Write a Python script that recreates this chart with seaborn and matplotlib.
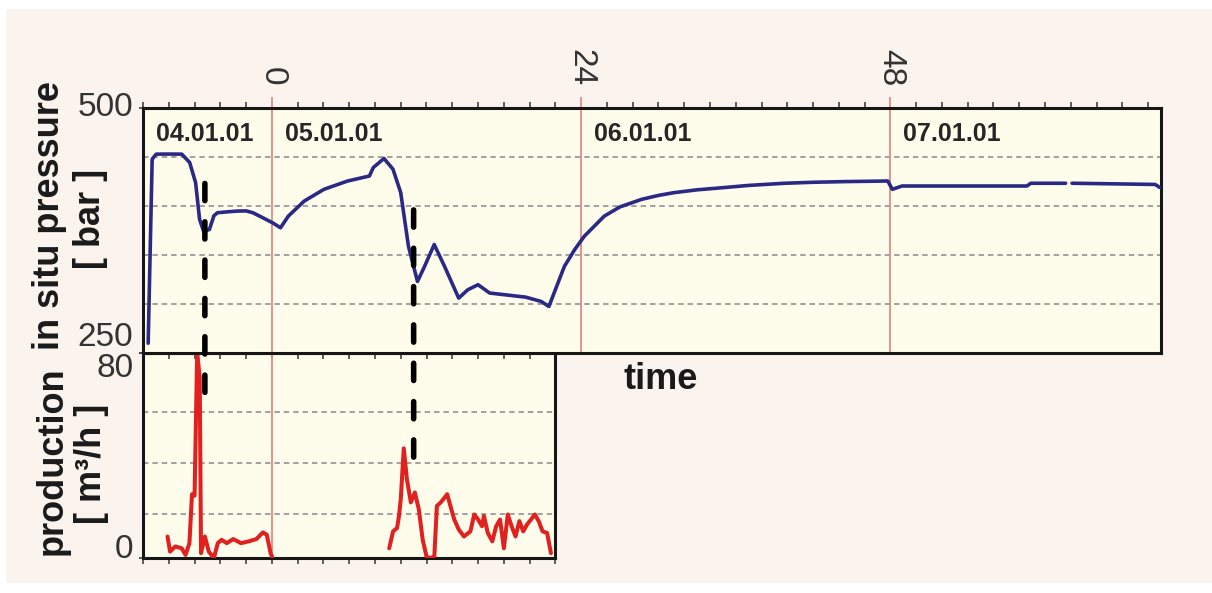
import numpy as np
import pandas as pd
import matplotlib
matplotlib.use("Agg")
import matplotlib.pyplot as plt
import seaborn as sns
from matplotlib.patches import Rectangle, ConnectionPatch
from matplotlib.ticker import MultipleLocator

# ---------------- data ----------------
pressure_hours = [-9.6, -9.29, -8.98, -8.0, -6.99, -6.38, -5.92, -5.61, -5.3, -4.85,
                  -4.5, -4.23, -3.5, -2.7, -2.0, -1.47, -0.7, 0.05, 0.67, 1.28,
                  2.51, 4.04, 5.88, 7.57, 7.87, 8.7, 9.4, 10.0, 10.6, 11.3,
                  11.85, 12.6, 13.4, 14.5, 15.2, 16.0, 16.9, 18.1, 19.7, 20.9,
                  21.5, 22.7, 23.5, 24.25, 25.8, 27.0, 28.7, 30.0, 31.2, 33.0,
                  35.0, 37.0, 39.8, 42.0, 44.5, 47.8, 48.15, 48.9, 58.6, 58.9,
                  61.6,
                  62.1, 68.55, 68.9]
pressure_bar = [260, 447.7, 452.9, 453, 452.9, 444.4, 423.9, 386.3, 374.3, 376,
                390, 393.1, 394, 394.8, 395, 393.1, 388, 382.9, 377.8, 389.7,
                405, 417, 425.5, 430.6, 439.2, 448.5, 437.5, 413.6, 358.9, 323,
                338.4, 360.7, 338.4, 306, 314.5, 319.7, 311.2, 309.4, 307, 302.6,
                297.5, 338.4, 355.5, 369.2, 389.7, 399, 406.8, 410.8, 413.6, 416.5,
                418.7, 421, 423.2, 424.2, 424.9, 425.5, 417, 420.4, 420.4, 423.2,
                423.2,
                423.2, 422, 419]
pressure_segment = [1] * 61 + [2] * 3

production_hours = [-8.1, -7.9, -7.5, -7.0, -6.7, -6.4, -6.2, -6.0, -5.8, -5.6,
                    -5.5, -5.2, -4.9, -4.5, -4.2, -3.9, -3.5, -3.0, -2.4, -1.8,
                    -1.2, -0.7, -0.4, -0.1, 0.05,
                    9.1, 9.4, 9.71, 9.86, 10.0, 10.23, 10.47, 10.78, 11.09, 11.4,
                    11.7, 12.0, 12.3, 12.6, 12.8, 13.1, 13.4, 13.6, 13.85, 14.15,
                    14.5, 14.9, 15.4, 15.7, 16.0, 16.3, 16.45, 16.75, 17.1, 17.4,
                    17.7, 18.0, 18.3, 18.6, 18.9, 19.2, 19.5, 19.8, 20.1, 20.4,
                    20.7, 21.0, 21.35, 21.65]
production_rate = [8.4, 2.5, 4.5, 3.8, 1.2, 5.8, 24.9, 24.3, 80.0, 70.5,
                   1.9, 8.4, 2.5, 0.0, 5.8, 7.1, 5.8, 7.4, 5.8, 6.5,
                   7.4, 10.0, 9.1, 1.9, 0.0,
                   3.8, 10.4, 11.7, 16.4, 23.0, 42.8, 30.9, 21.7, 25.6, 19.0,
                   7.1, 0.5, 0.0, 0.5, 20.3, 21.7, 23.6, 24.9, 20.3, 15.0,
                   11.1, 8.4, 10.4, 17.0, 15.0, 12.4, 16.4, 9.8, 6.5, 12.4,
                   15.0, 3.8, 17.0, 12.4, 8.4, 14.4, 10.4, 13.1, 15.0, 17.0,
                   14.4, 10.4, 9.8, 1.9]
production_segment = [1] * 25 + [2] * 44

day_lines = [0, 24, 48]
day_labels = ["04.01.01", "05.01.01", "06.01.01", "07.01.01"]
day_label_hours = [-9, 1, 25, 49]
day_label_bar = 473
event_hours = [-5.2, 11.0]
event_top_bar = [423, 396]
event_bottom_rate = [64.4, 39.0]
pressure_grid = [300, 350, 400, 450]
production_grid = [17, 37, 57]

df_p = pd.DataFrame({"hours": pressure_hours, "pressure": pressure_bar,
                     "segment": pressure_segment})
df_q = pd.DataFrame({"hours": production_hours, "rate": production_rate,
                     "segment": production_segment})

# ---------------- style ----------------
sns.set_theme(style="white")
plt.rcParams["font.family"] = ["Liberation Sans", "DejaVu Sans"]

BG = "#FBF4EE"
FACE = "#FEFDEB"
SPINE = "#161616"
TXT = "#333333"
LABEL = "#1A1A1A"
GRID = "#9A9A9A"
DAYLINE = "#E38A86"
BLUE = "#2A2A86"
RED = "#E12020"

fig = plt.figure(figsize=(12.12, 5.93), dpi=100, facecolor="white")
fig.add_artist(Rectangle((6 / 1212, 1 - 583 / 593), 1 - 6 / 1212, (583 - 9) / 593,
                         transform=fig.transFigure, facecolor=BG,
                         edgecolor="none", zorder=-10))

ax_bot = fig.add_axes([0.1180, 0.0590, 0.3403, 0.3457])
ax_top = fig.add_axes([0.1180, 0.4047, 0.8399, 0.4132])

for ax in (ax_top, ax_bot):
    ax.set_facecolor(FACE)
    for s in ax.spines.values():
        s.set_visible(True)
        s.set_color(SPINE)
        s.set_linewidth(2.2)

# ---------------- top: pressure ----------------
for d in day_lines:
    ax_top.axvline(d, color=DAYLINE, lw=1.3, zorder=1)
sns.lineplot(data=df_p, x="hours", y="pressure", units="segment",
             estimator=None, sort=False, color=BLUE, lw=2.6, ax=ax_top, zorder=3)
ax_top.set_xlim(-10, 69)
ax_top.set_ylim(250, 500)

ax_top.set_xticks(day_lines)
ax_top.set_xticklabels([str(d) for d in day_lines], rotation=-90)
ax_top.xaxis.set_minor_locator(MultipleLocator(2))
ax_top.tick_params(axis="x", which="both", top=True, bottom=False,
                   labeltop=True, labelbottom=False, direction="out")
ax_top.tick_params(axis="x", which="major", length=8, width=1.3, color=DAYLINE,
                   labelsize=24, labelcolor=TXT, pad=8)
ax_top.tick_params(axis="x", which="minor", length=4, width=1.2, color="#444444")

ax_top.set_yticks([250, 500])
ax_top.set_yticklabels(["250", "500"])
ax_top.set_yticks(pressure_grid, minor=True)
ax_top.tick_params(axis="y", which="major", left=True, length=3, width=1.2,
                   color="#444444", labelsize=24, labelcolor=TXT, pad=4)
ax_top.tick_params(axis="y", which="minor", left=False, length=0)
ax_top.grid(False)
ax_top.grid(axis="y", which="minor", color=GRID, lw=1.3, ls=(0, (3, 2.2)))
yt = ax_top.yaxis.get_major_ticks()
yt[0].label1.set_verticalalignment("bottom")
yt[1].label1.set_verticalalignment("center")

for h, lab in zip(day_label_hours, day_labels):
    ax_top.text(h, day_label_bar, lab, fontsize=18, fontweight="bold",
                color="#262626", ha="left", va="center", zorder=4)

ax_top.set_ylabel("in situ pressure", fontsize=26, fontweight="bold", color=LABEL)
ax_top.yaxis.set_label_coords(-0.0747, 0.563)
ax_top.text(-0.052, 0.547, "[ bar ]", transform=ax_top.transAxes, rotation=90,
            ha="center", va="center", fontsize=26, fontweight="bold", color=LABEL)
ax_top.xaxis.set_label_position("bottom")
ax_top.set_xlabel("time", fontsize=26, fontweight="bold", color=LABEL)
ax_top.xaxis.set_label_coords(0.509, -0.035)

# ---------------- bottom: production ----------------
for d in day_lines:
    if -10 <= d <= 22:
        ax_bot.axvline(d, color=DAYLINE, lw=1.3, zorder=1)
sns.lineplot(data=df_q, x="hours", y="rate", units="segment",
             estimator=None, sort=False, color=RED, lw=2.9, ax=ax_bot, zorder=3)
ax_bot.set_xlim(-10, 22)
ax_bot.set_ylim(0, 80)
ax_bot.xaxis.set_major_locator(MultipleLocator(2))
ax_bot.tick_params(axis="x", which="both", bottom=True, top=False,
                   labelbottom=False, labeltop=False, direction="out",
                   length=4, width=1.2, color="#444444")
sec = ax_bot.secondary_xaxis("top")
sec.xaxis.set_major_locator(MultipleLocator(2))
sec.tick_params(axis="x", direction="in", length=4, width=1.2, color="#444444",
                labeltop=False, top=True)
sec.spines["top"].set_visible(False)

ax_bot.set_yticks([0, 80])
ax_bot.set_yticklabels(["0", "80"])
ax_bot.set_yticks(production_grid, minor=True)
ax_bot.tick_params(axis="y", which="major", left=True, length=3, width=1.2,
                   color="#444444", labelsize=24, labelcolor=TXT, pad=4)
ax_bot.tick_params(axis="y", which="minor", left=False, length=0)
ax_bot.grid(False)
ax_bot.grid(axis="y", which="minor", color=GRID, lw=1.3, ls=(0, (3, 2.2)))
yb = ax_bot.yaxis.get_major_ticks()
yb[0].label1.set_verticalalignment("baseline")
yb[1].label1.set_verticalalignment("top")

ax_bot.set_xlabel("")
ax_bot.set_ylabel("production", fontsize=26, fontweight="bold", color=LABEL)
ax_bot.yaxis.set_label_coords(-0.177, 0.473)
ax_bot.text(-0.126, 0.459, "[ m³/h ]", transform=ax_bot.transAxes, rotation=90,
            ha="center", va="center", fontsize=26, fontweight="bold", color=LABEL)

# ---------------- event markers across both panels ----------------
for h, pt, pb in zip(event_hours, event_top_bar, event_bottom_rate):
    con = ConnectionPatch(xyA=(h, pt), coordsA=ax_top.transData,
                          xyB=(h, pb), coordsB=ax_bot.transData,
                          color="black", lw=4, linestyle=(0, (3.1, 3.8)),
                          zorder=10)
    fig.add_artist(con)

fig.savefig("out.png", dpi=100, facecolor=fig.get_facecolor())
